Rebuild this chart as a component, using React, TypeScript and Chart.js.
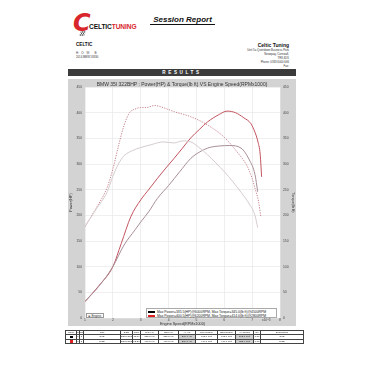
import React, { useEffect, useRef } from 'react';
import { Chart, registerables } from 'chart.js';
Chart.register(...registerables);

// Engine speed (RPM x1000) and values read from the dyno sheet
const rpmPower1 = [1.0, 1.5, 2.0, 2.4, 2.8, 3.0, 3.3, 3.6, 4.0, 4.4, 4.8, 5.1, 5.4, 5.8, 6.2, 6.6, 6.9, 7.1, 7.2];
const power1 = [32, 62, 100, 142, 172, 187, 208, 233, 258, 285, 311, 323, 331, 335, 336, 331, 308, 280, 246];

const rpmPower2 = [1.0, 1.5, 2.0, 2.3, 2.65, 3.0, 3.3, 3.6, 3.9, 4.2, 4.5, 4.8, 5.1, 5.4, 5.8, 6.1, 6.4, 6.7, 6.95, 7.1, 7.2, 7.29, 7.34];
const power2 = [32, 63, 100, 145, 198, 230, 251, 272, 292, 311, 331, 351, 367, 382, 396, 403, 400, 390, 379, 362, 345, 318, 275];

const rpmTorque1 = [1.0, 1.4, 1.8, 2.0, 2.2, 2.4, 2.7, 3.0, 3.4, 3.8, 4.2, 4.5, 4.8, 5.1, 5.4, 5.7, 6.0, 6.3, 6.6, 6.9, 7.1, 7.2];
const torque1 = [178, 212, 246, 276, 300, 316, 326, 332, 338, 343, 341, 345, 343, 332, 318, 302, 285, 266, 245, 222, 200, 176];

const rpmTorque2 = [1.0, 1.4, 1.8, 2.0, 2.2, 2.4, 2.6, 2.8, 3.0, 3.2, 3.5, 3.8, 4.2, 4.8, 5.4, 6.0, 6.45, 6.8, 7.0, 7.1, 7.23, 7.31];
const torque2 = [178, 214, 255, 290, 335, 375, 400, 407, 410, 410, 414, 410, 402, 392, 376, 352, 324, 298, 272, 253, 227, 198];

const xTicks = [1, 2, 3, 4, 5, 6, 7, 8];
const legendLines = [
  'Max Power=335.5(HP)@6000RPM, Max Torque=345.0(lb ft)@4500RPM',
  'Max Power=400.5(HP)@6200RPM, Max Torque=414.0(lb ft)@2800RPM',
];
const legendColors = ['#000000', '#e02020'];

const tableHeader = ['Color', 'Set', 'Run', 'Title', 'Date', 'Time', 'Max HP', 'Eng HP', 'Av HP', 'Max Torque', 'Eng Torque', 'Av Torque', 'CF', 'Description'];
const tableRows = [
  ['', '1', '1', 'STD', '22/04/2018', '11:09', '335.5 HP', '335.5 HP', '260.9 HP', '345.0 lb ft', '345.0 lb ft', '292.1 lb ft', '1.00', 'STD'],
  ['', '1', '2', 'MOD', '22/04/2018', '12:20', '400.5 HP', '400.5 HP', '289.0 HP', '414.0 lb ft', '414.0 lb ft', '358.4 lb ft', '1.00', 'MOD'],
];
const colWidths = [11, 3, 4, 37, 12, 8, 18, 20, 17, 22, 18, 18, 7, 43];

const pts = (xs: number[], ys: number[]) => xs.map((x, i) => ({ x, y: ys[i] }));

const whiteArea = {
  id: 'whiteArea',
  beforeDraw(chart: any) {
    const { ctx, chartArea } = chart;
    ctx.save();
    ctx.fillStyle = '#ffffff';
    ctx.fillRect(chartArea.left, chartArea.top, chartArea.right - chartArea.left, chartArea.bottom - chartArea.top);
    ctx.restore();
  },
};

export default function App() {
  const ref = useRef<HTMLCanvasElement>(null);
  useEffect(() => {
    const tickFont = { size: 3.3, family: '"Liberation Sans", Arial, sans-serif' };
    const titleFont = { size: 3.8, family: '"Liberation Sans", Arial, sans-serif' };
    const chart = new Chart(ref.current!, {
      type: 'line',
      data: {
        datasets: [
          { label: 'Torque 1', data: pts(rpmTorque1, torque1), yAxisID: 'y2', borderColor: '#d6cccd', borderWidth: 1 },
          { label: 'Power 1', data: pts(rpmPower1, power1), yAxisID: 'y', borderColor: '#a88f97', borderWidth: 1 },
          { label: 'Torque 2', data: pts(rpmTorque2, torque2), yAxisID: 'y2', borderColor: '#c9828d', borderWidth: 1, borderDash: [1.2, 1.3] },
          { label: 'Power 2', data: pts(rpmPower2, power2), yAxisID: 'y', borderColor: '#c4545f', borderWidth: 1 },
        ] as any,
      },
      options: {
        animation: false,
        responsive: false,
        events: [],
        layout: { padding: { top: 9, left: 0, right: 0, bottom: 0 } },
        elements: { point: { radius: 0 }, line: { tension: 0.4, cubicInterpolationMode: 'monotone' } },
        plugins: { legend: { display: false }, tooltip: { enabled: false }, title: { display: false } },
        scales: {
          x: {
            type: 'linear', min: 1, max: 8,
            afterBuildTicks: (s: any) => { s.ticks = xTicks.map((v) => ({ value: v })); },
            ticks: { font: tickFont, color: '#444', padding: 0.5, maxRotation: 0 },
            grid: { color: '#e4e4e4', lineWidth: 0.6, drawTicks: false },
            border: { display: false },
            title: { display: true, text: 'Engine Speed(RPMx1000)', font: titleFont, color: '#333', padding: 0 },
            afterFit: (s: any) => { s.height = 8; },
          },
          y: {
            position: 'left', min: 0, max: 450,
            ticks: { stepSize: 50, font: tickFont, color: '#444', padding: 3 },
            grid: { color: '#e4e4e4', lineWidth: 0.6, drawTicks: false },
            border: { display: false },
            title: { display: true, text: 'Power(HP)', font: titleFont, color: '#333', padding: 1 },
            afterFit: (s: any) => { s.width = 17; },
          },
          y2: {
            position: 'right', min: 0, max: 450,
            ticks: { stepSize: 50, font: tickFont, color: '#444', padding: 3 },
            grid: { display: false, drawTicks: false },
            border: { display: false },
            title: { display: true, text: 'Torque(lb ft)', font: titleFont, color: '#333', padding: 1 },
            afterFit: (s: any) => { s.width = 16; },
          },
        },
      } as any,
      plugins: [whiteArea],
    });
    return () => chart.destroy();
  }, []);

  const abs = (l: number, t: number, extra: any = {}) => ({ position: 'absolute' as const, left: l, top: t, ...extra });
  const font = '"Liberation Sans", Arial, sans-serif';

  return (
    <div style={{ position: 'absolute', left: 0, top: 0, width: 366, height: 366, background: '#fff', fontFamily: font, overflow: 'hidden', color: '#111' }}>
      {/* Logo */}
      <div style={abs(73, 11, { fontSize: 24, fontWeight: 'bold', fontStyle: 'italic', color: '#d8262c', lineHeight: '24px', fontFamily: '"DejaVu Sans", sans-serif' })}>C</div>
      <div style={abs(80, 31, { width: 5, height: 5, background: 'repeating-conic-gradient(#111 0 25%, #fff 0 50%) 0 0/2px 2px', transform: 'skewX(-20deg)' })}></div>
      <div style={abs(89, 23, { fontSize: 6.6, fontWeight: 'bold', lineHeight: '8px', letterSpacing: -0.1, whiteSpace: 'nowrap' })}>
        <span style={{ color: '#111' }}>CELTIC</span><span style={{ color: '#d8262c' }}>TUNING</span>
      </div>
      {/* Session Report */}
      <div style={abs(150, 15, { width: 65, textAlign: 'center', fontSize: 8, fontWeight: 'bold', fontStyle: 'italic', lineHeight: '9px', borderBottom: '0.8px solid #111', whiteSpace: 'nowrap' })}>Session Report</div>
      {/* Left details */}
      <div style={abs(76, 42, { fontSize: 4.6, fontWeight: 'bold', lineHeight: '6px' })}>CELTIC</div>
      <div style={abs(76, 51.5, { fontSize: 2.8, lineHeight: '3.5px', whiteSpace: 'pre', color: '#333' })}>{'H:   O:   W:      B:'}</div>
      <div style={abs(76, 56, { fontSize: 2.8, lineHeight: '3.5px', whiteSpace: 'nowrap', color: '#333' })}>2014 BMW 58330</div>
      {/* Right details */}
      <div style={abs(196, 42, { width: 93, textAlign: 'right', fontSize: 5, fontWeight: 'bold', lineHeight: '6px' })}>Celtic Tuning</div>
      <div style={abs(196, 49, { width: 93, textAlign: 'right', fontSize: 2.8, lineHeight: '3.9px', color: '#333' })}>
        <div>Unit 5a Quintdown Business Park</div>
        <div>Newquay, Cornwall,</div>
        <div>TR8 4DS</div>
        <div>Phone: 0333 6000 666</div>
        <div>Fax:</div>
      </div>
      {/* Results bar */}
      <div style={abs(68, 69, { width: 228, height: 7, background: '#3b3b3b', color: '#fff', fontSize: 4.6, fontWeight: 'bold', lineHeight: '7px', textAlign: 'center', letterSpacing: 2.6 })}>RESULTS</div>
      {/* Chart panel */}
      <div style={abs(68, 79, { width: 228, height: 247, background: '#d3d3d3' })}></div>
      <canvas ref={ref} width={228} height={248} style={abs(68, 78, { width: 228, height: 248 })} />
      <div style={abs(68, 80.5, { width: 228, textAlign: 'center', fontSize: 5, lineHeight: '6px', color: '#333', whiteSpace: 'nowrap' })}>
        BMW 35I 322BHP : Power(HP) &amp; Torque(lb ft) VS Engine Speed(RPMx1000)
      </div>
      <div style={abs(262, 317.6, { fontSize: 3.2, lineHeight: '4px', color: '#444' })}>x10^3</div>
      {/* Engine box */}
      <div style={abs(85.5, 312.5, { width: 18, height: 5, background: '#fff', border: '0.5px solid #999', fontSize: 3.2, lineHeight: '5px', color: '#333', boxSizing: 'border-box', paddingLeft: 1, whiteSpace: 'nowrap' })}>⊕ Engine</div>
      {/* Legend */}
      <div style={abs(146, 307.5, { width: 131, height: 10, background: '#fff', border: '0.5px solid #aaa', boxSizing: 'border-box' })}>
        {legendLines.map((t, i) => (
          <div key={i} style={{ position: 'absolute', left: 1, top: 1 + i * 4, height: 4, whiteSpace: 'nowrap' }}>
            <div style={{ position: 'absolute', left: 0, top: 1, width: 7, height: 2.2, background: legendColors[i] }}></div>
            <div style={{ position: 'absolute', left: 9, top: 0, fontSize: 3.4, lineHeight: '4px', color: '#222' }}>{t}</div>
          </div>
        ))}
      </div>
      {/* Table */}
      <table style={{ position: 'absolute', left: 65, top: 330, borderCollapse: 'collapse', tableLayout: 'fixed', width: colWidths.reduce((a, b) => a + b, 0), fontSize: 2.5, lineHeight: '3.4px', color: '#222' }}>
        <colgroup>{colWidths.map((w, i) => <col key={i} style={{ width: w }} />)}</colgroup>
        <tbody>
          <tr>
            {tableHeader.map((h, i) => (
              <td key={i} style={{ border: '0.5px solid #444', padding: 0, textAlign: 'center', height: 3.4, overflow: 'hidden', whiteSpace: 'nowrap' }}>{h}</td>
            ))}
          </tr>
          {tableRows.map((r, ri) => (
            <tr key={ri}>
              {r.map((c, ci) => (
                <td key={ci} style={{ border: '0.5px solid #444', padding: 0, textAlign: 'center', height: 3.4, overflow: 'hidden', whiteSpace: 'nowrap', background: ci === 8 || ci === 11 ? '#cfcfcf' : '#fff' }}>
                  {ci === 0 ? <div style={{ width: 3, height: 2.6, margin: '0 auto', background: legendColors[ri] }}></div> : c}
                </td>
              ))}
            </tr>
          ))}
        </tbody>
      </table>
    </div>
  );
}
